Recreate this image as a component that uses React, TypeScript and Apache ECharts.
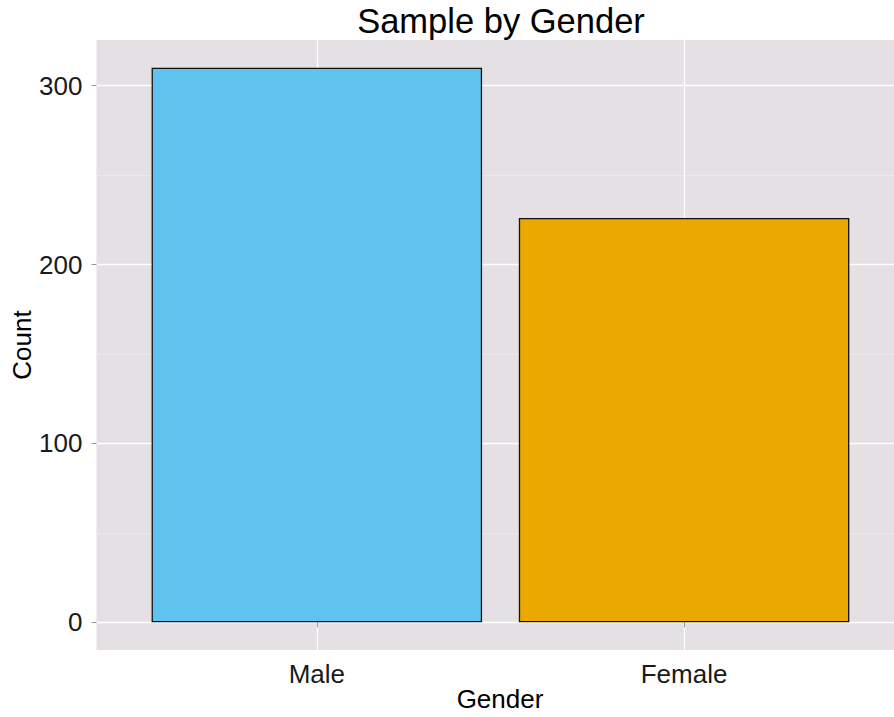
import React, { useEffect, useRef } from "react";
import * as echarts from "echarts";

const categories = ["Male", "Female"];
const counts = [310, 226];
const barColors = ["#60C3EF", "#EBA900"];
const yTicks = [0, 100, 200, 300];
const yMinorTicks = [50, 150, 250];
const titleText = "Sample by Gender";
const xTitle = "Gender";
const yTitle = "Count";

const FONT = "'Liberation Sans', Arial, Helvetica, sans-serif";

export default function App() {
  const ref = useRef<HTMLDivElement>(null);
  useEffect(() => {
    document.body.style.margin = "0";
    if (!ref.current) return;
    const chart = echarts.init(ref.current, undefined, { renderer: "svg" });
    const xPos = categories.map((_, i) => i + 1);
    chart.setOption({
      animation: false,
      backgroundColor: "#ffffff",
      textStyle: { fontFamily: FONT },
      grid: {
        left: 96.5,
        top: 40,
        bottom: 67,
        right: 0,
        show: true,
        backgroundColor: "#E4E0E4",
        borderWidth: 0,
        containLabel: false,
      },
      graphic: [
        {
          type: "text",
          x: 501,
          y: 21,
          style: {
            text: titleText,
            fontSize: 34.5,
            fontFamily: FONT,
            fill: "#000",
            textAlign: "center",
            textVerticalAlign: "middle",
          },
        },
        {
          type: "text",
          x: 500,
          y: 699,
          style: {
            text: xTitle,
            fontSize: 26,
            fontFamily: FONT,
            fill: "#000",
            textAlign: "center",
            textVerticalAlign: "middle",
          },
        },
        {
          type: "text",
          x: 22,
          y: 345,
          rotation: Math.PI / 2,
          style: {
            text: yTitle,
            fontSize: 26,
            fontFamily: FONT,
            fill: "#000",
            textAlign: "center",
            textVerticalAlign: "middle",
          },
        },
      ],
      xAxis: {
        type: "value",
        min: 0.4,
        max: 2.5716,
        axisLine: { show: false },
        axisTick: {
          show: true,
          length: 5,
          customValues: xPos,
          lineStyle: { color: "#999", width: 1 },
        },
        axisLabel: {
          customValues: xPos,
          fontSize: 26,
          color: "#1a1a1a",
          margin: 11,
          fontFamily: FONT,
          formatter: (v: number) => categories[Math.round(v) - 1] ?? "",
        },
        splitLine: { show: true, lineStyle: { color: "#ffffff", width: 1.3 } },
      },
      yAxis: [
        {
          type: "value",
          min: -15.5,
          max: 325.5,
          axisLine: { show: false },
          axisTick: {
            show: true,
            length: 5,
            customValues: yTicks,
            lineStyle: { color: "#999", width: 1 },
          },
          axisLabel: {
            customValues: yTicks,
            fontSize: 26,
            color: "#1a1a1a",
            margin: 14,
            fontFamily: FONT,
          },
          splitLine: { show: true, lineStyle: { color: "#ffffff", width: 1.3 } },
        },
        {
          type: "value",
          min: -15.5,
          max: 325.5,
          position: "left",
          axisLine: { show: false },
          axisTick: { show: false, customValues: yMinorTicks },
          axisLabel: { show: false, customValues: yMinorTicks },
          splitLine: { show: true, lineStyle: { color: "#EFECEF", width: 0.8 } },
        },
      ],
      series: [
        {
          type: "bar",
          xAxisIndex: 0,
          yAxisIndex: 0,
          barWidth: 330.5,
          data: counts.map((c, i) => ({
            value: [xPos[i], c],
            itemStyle: { color: barColors[i], borderColor: "#111", borderWidth: 1.3 },
          })),
        },
      ],
    });
    return () => chart.dispose();
  }, []);
  return <div ref={ref} style={{ width: 894, height: 717 }} />;
}
